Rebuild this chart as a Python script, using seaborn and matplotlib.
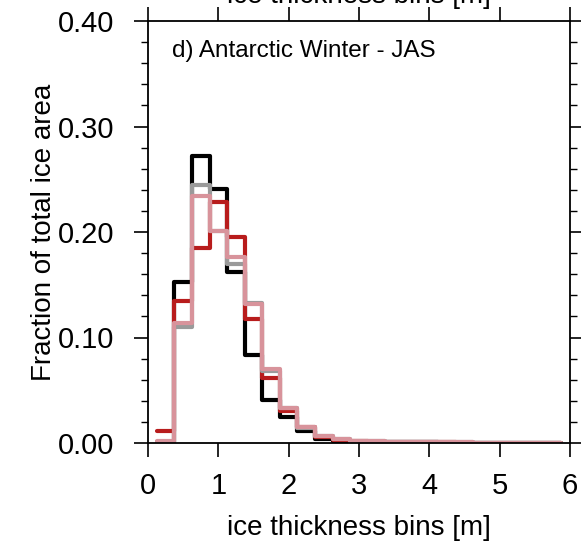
import numpy as np
import pandas as pd
import matplotlib
matplotlib.use("Agg")
import matplotlib.pyplot as plt
import seaborn as sns
from matplotlib.ticker import MultipleLocator

# Ice thickness bin centres [m]
bin_centres = [0.25, 0.50, 0.75, 1.00, 1.25, 1.50, 1.75, 2.00, 2.25, 2.50, 2.75,
               3.00, 3.25, 3.50, 3.75, 4.00, 4.25, 4.50, 4.75, 5.00, 5.25, 5.50, 5.75]
bin_width = 0.25

# Fraction of total ice area per thickness bin, one list per simulation
frac_black = [0.001, 0.153, 0.272, 0.241, 0.162, 0.083, 0.041, 0.025, 0.011, 0.004,
              0.002, 0.001, 0.001, 0.001, 0.0005, 0.0005, 0.0003, 0.0003, 0.0002,
              0.0002, 0.0001, 0.0001, 0.0001]
frac_red = [0.011, 0.135, 0.185, 0.228, 0.195, 0.118, 0.062, 0.030, 0.015, 0.006,
            0.003, 0.002, 0.001, 0.001, 0.0008, 0.0006, 0.0005, 0.0004, 0.0003,
            0.0003, 0.0002, 0.0002, 0.0002]
frac_gray = [0.001, 0.110, 0.245, 0.201, 0.170, 0.133, 0.068, 0.033, 0.014, 0.007,
             0.004, 0.002, 0.0015, 0.001, 0.001, 0.0008, 0.0006, 0.0005, 0.0004,
             0.0003, 0.0003, 0.0002, 0.0002]
frac_pink = [0.002, 0.114, 0.234, 0.201, 0.176, 0.132, 0.070, 0.033, 0.015, 0.007,
             0.004, 0.002, 0.0015, 0.001, 0.001, 0.0008, 0.0006, 0.0005, 0.0004,
             0.0003, 0.0003, 0.0002, 0.0002]

series = [frac_black, frac_red, frac_gray, frac_pink]
colors = ["#000000", "#b81c1c", "#9a9a9a", "#d8939b"]

x_ticks = [0, 1, 2, 3, 4, 5, 6]
y_ticks = [0.00, 0.10, 0.20, 0.30, 0.40]
y_ticklabels = ["0.00", "0.10", "0.20", "0.30", "0.40"]

sns.set_theme(style="white")
plt.rcParams["font.family"] = ["Liberation Sans", "DejaVu Sans"]

fig = plt.figure(figsize=(5.81, 5.42), dpi=100)
ax = fig.add_axes([148 / 581, 1 - 443 / 542, (570 - 148) / 581, (443 - 21) / 542])

# Step outlines: left bin edges plus the closing right edge
edges = [c - bin_width / 2 for c in bin_centres] + [bin_centres[-1] + bin_width / 2]
for vals, col in zip(series, colors):
    df = pd.DataFrame({"edge": edges, "fraction": list(vals) + [vals[-1]]})
    sns.lineplot(data=df, x="edge", y="fraction", color=col, linewidth=3.0,
                 drawstyle="steps-post", ax=ax, legend=False)

ax.set_xlim(0, 6)
ax.set_ylim(0, 0.40)
ax.set_xticks(x_ticks)
ax.set_xticklabels([str(t) for t in x_ticks])
ax.set_yticks(y_ticks)
ax.set_yticklabels(y_ticklabels)
ax.yaxis.set_minor_locator(MultipleLocator(0.02))

for s in ax.spines.values():
    s.set_visible(True)
    s.set_color("black")
    s.set_linewidth(1.3)

ax.tick_params(axis="both", which="major", direction="out", length=10, width=1.2,
               color="black", labelsize=21, labelcolor="black",
               top=True, right=True, bottom=True, left=True)
ax.tick_params(axis="x", which="major", pad=11)
ax.tick_params(axis="y", which="major", pad=14)
ax.tick_params(axis="y", which="minor", direction="out", length=5, width=1.0,
               color="black", left=True, right=True)

ax.set_xlabel("ice thickness bins [m]", fontsize=20, color="black", labelpad=11)
ax.set_ylabel("Fraction of total ice area", fontsize=20, color="black", labelpad=1)

ax.text(0.057, 0.955, "d) Antarctic Winter - JAS", transform=ax.transAxes,
        fontsize=17.5, color="black", ha="left", va="top")

# Axis label of the panel above, clipped by the top edge
fig.text(359 / 581, 1 - 3 / 542, "ice thickness bins [m]", fontsize=20,
         color="black", ha="center", va="baseline")

fig.savefig("out.png", dpi=100, facecolor="white")
